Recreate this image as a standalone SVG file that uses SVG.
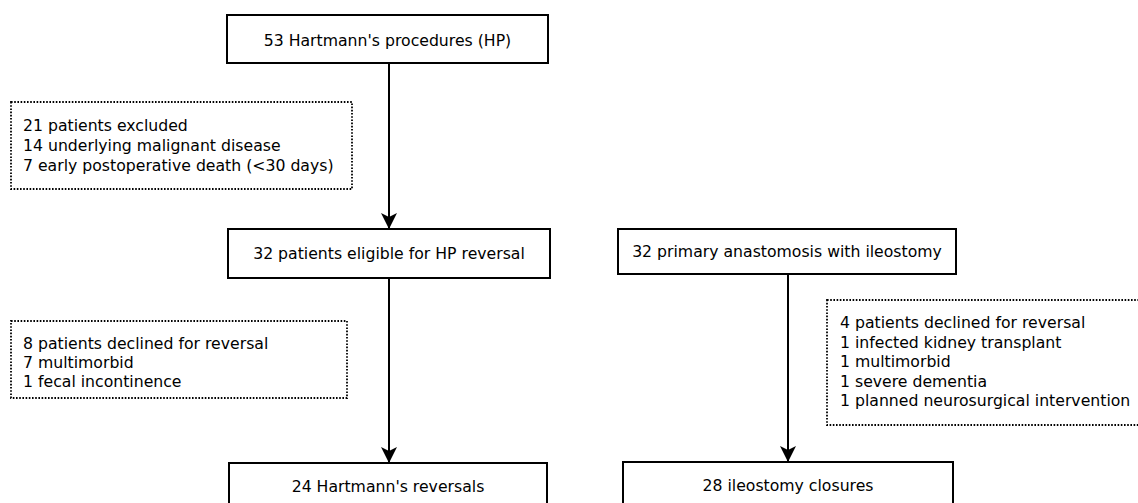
<svg xmlns="http://www.w3.org/2000/svg" width="1138" height="503" viewBox="0 0 1138 503">
<defs>
<style>
.box{fill:#fff;stroke:#000;stroke-width:2}
.note{fill:#fff;stroke:#000;stroke-width:1.8;stroke-dasharray:1.6 1.6}
.t{font-family:"DejaVu Sans",sans-serif;font-size:15.7px;fill:#000}
.c{text-anchor:middle}
.edge{stroke:#000;stroke-width:2;fill:none}
</style>
<marker id="ah" viewBox="0 0 16 16" refX="16" refY="8" markerWidth="16" markerHeight="16" markerUnits="userSpaceOnUse" orient="auto">
<path d="M0,0 L16,8 L0,16 L4,8 Z" fill="#000"/>
</marker>
</defs>
<rect width="1138" height="503" fill="#fff"/>
<g id="connectors">
<line class="edge" x1="389" y1="63" x2="389" y2="229" marker-end="url(#ah)"/>
<line class="edge" x1="389" y1="278" x2="389" y2="463" marker-end="url(#ah)"/>
<line class="edge" x1="788" y1="274" x2="788" y2="462" marker-end="url(#ah)"/>
</g>
<g id="n1">
<rect class="box" x="227" y="15" width="321" height="48"/>
<text class="t c" x="387.5" y="45.5">53 Hartmann's procedures (HP)</text>
</g>
<g id="excl1">
<rect class="note" x="11" y="102" width="341" height="87"/>
<text class="t" x="23" y="131">21 patients excluded</text>
<text class="t" x="23" y="151">14 underlying malignant disease</text>
<text class="t" x="23" y="171">7 early postoperative death (&lt;30 days)</text>
</g>
<g id="n2">
<rect class="box" x="228" y="229" width="322" height="49"/>
<text class="t c" x="389" y="259">32 patients eligible for HP reversal</text>
</g>
<g id="n3">
<rect class="box" x="618" y="229" width="338" height="45"/>
<text class="t c" x="787" y="256.5">32 primary anastomosis with ileostomy</text>
</g>
<g id="excl2">
<rect class="note" x="11" y="321" width="336" height="77"/>
<text class="t" x="23" y="349">8 patients declined for reversal</text>
<text class="t" x="23" y="368">7 multimorbid</text>
<text class="t" x="23" y="387">1 fecal incontinence</text>
</g>
<g id="excl3">
<rect class="note" x="827" y="300" width="330" height="125"/>
<text class="t" x="840" y="328">4 patients declined for reversal</text>
<text class="t" x="840" y="348">1 infected kidney transplant</text>
<text class="t" x="840" y="367">1 multimorbid</text>
<text class="t" x="840" y="387">1 severe dementia</text>
<text class="t" x="840" y="406">1 planned neurosurgical intervention</text>
</g>
<g id="n4">
<rect class="box" x="229" y="463" width="318" height="60"/>
<text class="t c" x="388" y="492">24 Hartmann's reversals</text>
</g>
<g id="n5">
<rect class="box" x="623" y="462" width="330" height="60"/>
<text class="t c" x="788" y="491">28 ileostomy closures</text>
</g>
</svg>
